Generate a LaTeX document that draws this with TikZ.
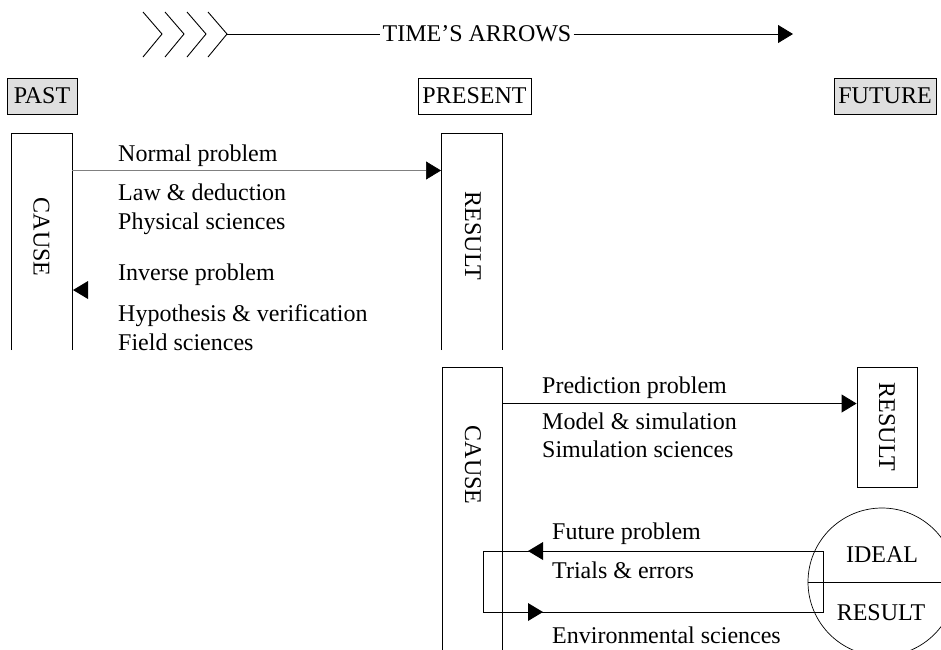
\documentclass[tikz,border=0pt]{standalone}
\usepackage{fontspec}
\setmainfont{Liberation Serif}
\usetikzlibrary{arrows.meta}
\begin{document}
\begin{tikzpicture}[x=1pt,y=-1pt,
  txt/.style={anchor=base west, inner sep=0pt, font=\fontsize{24}{28}\selectfont},
  lbl/.style={draw, line width=0.8pt, inner sep=0pt, minimum height=36pt, font=\fontsize{24}{28}\selectfont},
  vlbl/.style={rotate=-90, inner sep=0pt, font=\fontsize{24}{28}\selectfont},
  ln/.style={line width=0.9pt},
  tip/.style={-{Triangle[length=15pt,width=18pt,color=black]}}
]
\useasboundingbox (0,0) rectangle (941,649);
\clip (0,0) rectangle (941,649);

% time's arrow
\foreach \x in {143,165,187,208}{
  \draw[ln] (\x,12) -- (\x+19,34) -- (\x,57);
}
\coordinate (tstart) at (227,34);
\node[inner sep=2pt, font=\fontsize{24}{28}\selectfont] (time) at (477,34) {TIME’S ARROWS};
\coordinate (tend) at (793,34);
\draw[ln] (tstart) -- (time.west);
\draw[ln,tip] (time.east) -- (tend);

% period labels
\node[lbl, fill=gray!25, minimum width=70pt] (past) at (42,96) {PAST};
\node[lbl, fill=white, minimum width=113pt] (present) at (474.5,96) {PRESENT};
\node[lbl, fill=gray!25, minimum width=102pt] (future) at (885,96) {FUTURE};

% upper section
\draw[ln] (11.5,350) -- (11.5,133) -- (72,133) -- (72,350);
\node[vlbl] (cause1) at (41.5,237) {CAUSE};
\draw[ln] (441.5,350) -- (441.5,133) -- (502,133) -- (502,350);
\node[vlbl] (result1) at (473,236) {RESULT};
\coordinate (n1) at (72,170.5);
\coordinate (n2) at (441,170.5);
\draw[gray, line width=0.6pt, tip] (n1) -- (n2);
\fill (88,281) -- (73,290) -- (88,299) -- cycle;

\node[txt] (t1) at (118,161) {Normal problem};
\node[txt] (t2) at (118,200) {Law \& deduction};
\node[txt] (t3) at (118,229) {Physical sciences};
\node[txt] (t4) at (118,280) {Inverse problem};
\node[txt] (t5) at (118,321) {Hypothesis \& verification};
\node[txt] (t6) at (118,350) {Field sciences};

% lower section
\draw[ln] (442.5,660) -- (442.5,367) -- (502.5,367) -- (502.5,660);
\node[vlbl] (cause2) at (473,465) {CAUSE};
\node[draw, ln, minimum width=60pt, minimum height=120pt, inner sep=0pt] (result2) at (887,427) {};
\node[vlbl] at (result2.center) {RESULT};
\coordinate (p1) at (502.5,403.5);
\draw[ln, tip] (p1) -- (result2.west |- p1);

\node[txt] (t7) at (542,393) {Prediction problem};
\node[txt] (t8) at (542,429) {Model \& simulation};
\node[txt] (t9) at (542,457) {Simulation sciences};

% ideal circle
\node[draw, line width=0.7pt, circle, minimum size=148pt, inner sep=0pt] (ideal) at (882,582) {};
\coordinate (rr) at (941,582);
\draw[line width=0.8pt] (ideal.west) -- (rr);
\node[inner sep=0pt, anchor=base, font=\fontsize{24}{28}\selectfont] (idealt) at (882,562) {IDEAL};
\node[inner sep=0pt, anchor=base, font=\fontsize{24}{28}\selectfont] (resultt) at (881,620) {RESULT};

% trial loop
\coordinate (la) at (823,551);
\coordinate (lb) at (483,551);
\coordinate (lc) at (483,612);
\coordinate (ld) at (823,612);
\draw[ln] (la) -- (lb) -- (lc) -- (ld) -- cycle;
\fill (543,542) -- (528,551) -- (543,560) -- cycle;
\fill (528,603) -- (543,612) -- (528,621) -- cycle;

\node[txt] (t10) at (552,539) {Future problem};
\node[txt] (t11) at (552,578) {Trials \& errors};
\node[txt] (t12) at (552,643) {Environmental sciences};
\end{tikzpicture}
\end{document}
